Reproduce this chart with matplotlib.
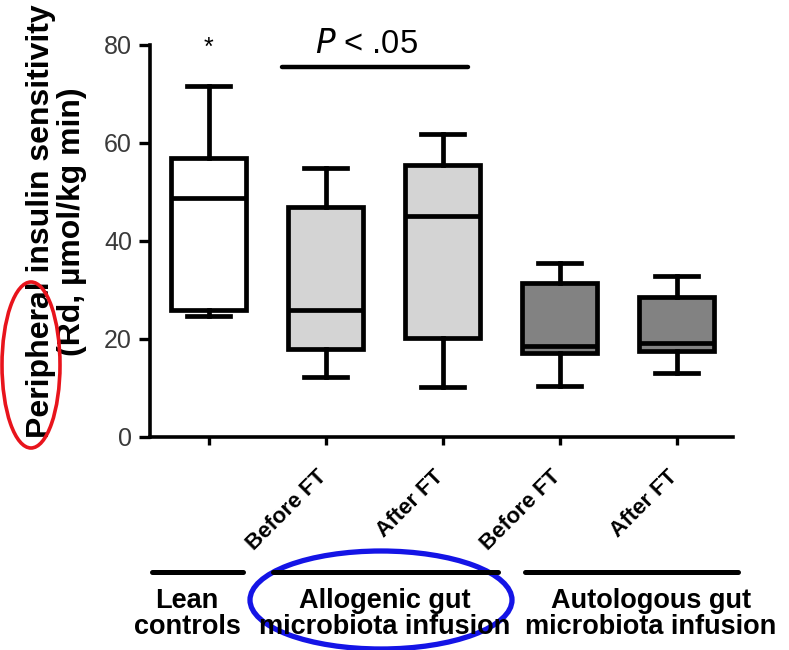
import numpy as np
import matplotlib
matplotlib.use("Agg")
import matplotlib.pyplot as plt
from matplotlib.patches import Ellipse
from matplotlib.lines import Line2D

plt.rcParams['font.family'] = ['Liberation Sans', 'DejaVu Sans']

# box summaries per group (Rd, umol/kg min)
positions = [1, 2, 3, 4, 5]
q1 = [26.0, 18.0, 20.3, 17.2, 17.6]
med = [48.7, 26.0, 45.0, 18.6, 19.1]
q3 = [57.0, 47.0, 55.5, 31.4, 28.6]
whislo = [24.7, 12.3, 10.3, 10.5, 13.1]
whishi = [71.7, 54.8, 61.8, 35.5, 32.9]
fills = ['white', '#d4d4d4', '#d4d4d4', '#828282', '#828282']

tick_labels = ['', 'Before FT', 'After FT', 'Before FT', 'After FT']
group_names = ['Lean\ncontrols', 'Allogenic gut\nmicrobiota infusion',
               'Autologous gut\nmicrobiota infusion']

stats = []
for i in range(len(positions)):
    stats.append(dict(q1=q1[i], med=med[i], q3=q3[i],
                      whislo=whislo[i], whishi=whishi[i], fliers=[]))

fig = plt.figure(figsize=(7.89, 6.5), dpi=100)
ax = fig.add_axes([150/789, 1 - 437/650, 583/789, 392/650])

lw = 3.4
bp = ax.bxp(stats, positions=positions, widths=0.64, capwidths=0.37,
            patch_artist=True, showfliers=False,
            boxprops=dict(linewidth=lw, edgecolor='black'),
            medianprops=dict(linewidth=lw, color='black', solid_capstyle='butt'),
            whiskerprops=dict(linewidth=lw, color='black'),
            capprops=dict(linewidth=lw, color='black'))
for patch, c in zip(bp['boxes'], fills):
    patch.set_facecolor(c)
    patch.set_joinstyle('miter')

ax.set_xlim(0.5, 5.48)
ax.set_ylim(0, 80)
ax.set_yticks([0, 20, 40, 60, 80])
ax.set_xticks(positions)
ax.set_xticklabels([])
for s in ['top', 'right']:
    ax.spines[s].set_visible(False)
for s in ['left', 'bottom']:
    ax.spines[s].set_linewidth(2.6)
ax.tick_params(axis='y', length=8, width=2.4, labelsize=18,
               labelcolor='#3a3a3a', pad=5)
ax.tick_params(axis='x', length=6, width=2.4)

# rotated subgroup labels
for x, lab in zip(positions, tick_labels):
    ax.annotate(lab, xy=(x, 0), xycoords=('data', 'axes fraction'),
                xytext=(4, -21), textcoords='offset points',
                rotation=45, ha='right', va='top', fontsize=16,
                fontweight='bold', annotation_clip=False)

ax.set_ylabel('Peripheral insulin sensitivity\n(Rd, µmol/kg min)',
              fontsize=23, fontweight='bold', linespacing=1.05)
ax.yaxis.set_label_coords(-0.108, 0.55)

# significance marks
ax.text(1, 78.0, '*', ha='center', va='baseline', fontsize=18, clip_on=False)
ax.plot([1.63, 3.22], [75.5, 75.5], color='black', lw=3.2,
        solid_capstyle='round', clip_on=False)
ax.text(2.35, 76.9, r'$\it{P}$ < .05', ha='center', va='bottom',
        fontsize=23.5, clip_on=False)

# group brackets below the axis
spans = [(152, 243), (273, 498), (525, 738)]
centers = [187, 385, 651]
for (x0, x1), cx, name in zip(spans, centers, group_names):
    fig.add_artist(Line2D([x0/789, x1/789], [1 - 572/650] * 2,
                          color='black', lw=3.6, solid_capstyle='round'))
    fig.text(cx/789, 1 - 588/650, name, ha='center', va='top',
             fontsize=19.5, fontweight='bold', linespacing=1.0)

# highlight rings
fig.add_artist(Ellipse((31/789, 1 - 365/650), 58/789, 166/650,
                       fill=False, edgecolor='#e8141c', lw=2.6))
fig.add_artist(Ellipse((381/789, 1 - 600/650), 262/789, 98/650,
                       fill=False, edgecolor='#1414e6', lw=3.8))

fig.savefig('out.png', dpi=100)
